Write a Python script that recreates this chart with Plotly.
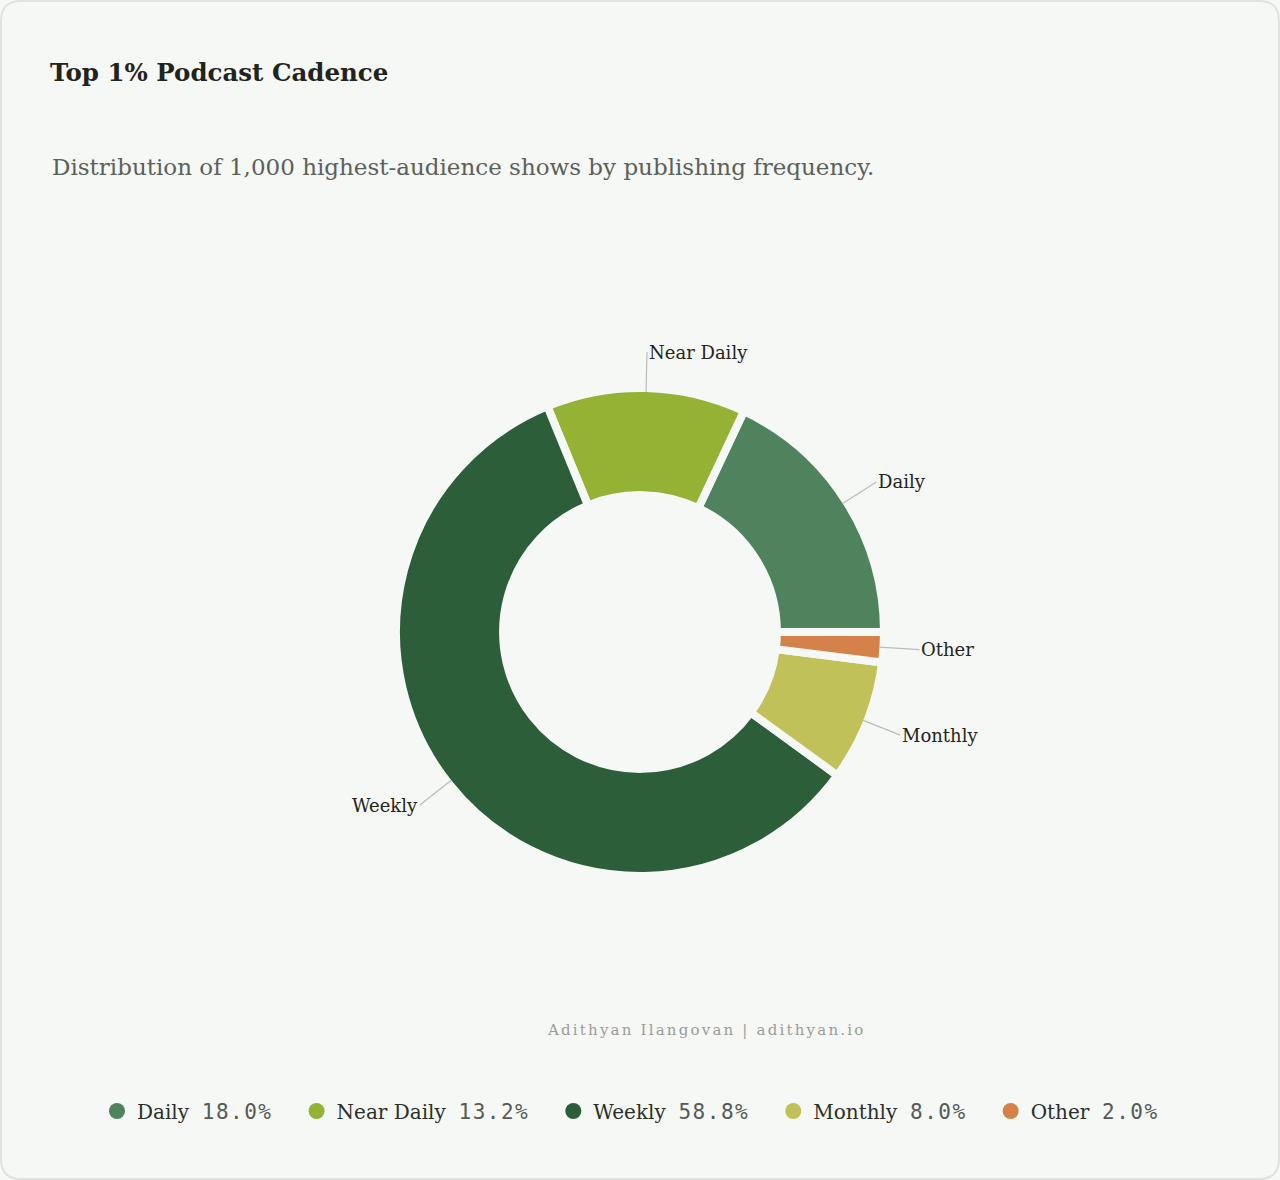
import numpy as np
import plotly.graph_objects as go

# data
labels = ["Daily", "Near Daily", "Weekly", "Monthly", "Other"]
shares = [18.0, 13.2, 58.8, 8.0, 2.0]
colors = ["#4e835e", "#94b335", "#2c5e3a", "#c1c15a", "#d4824a"]

TITLE = "Top 1% Podcast Cadence"
SUBTITLE = "Distribution of 1,000 highest-audience shows by publishing frequency."
CREDIT = "Adithyan Ilangovan | adithyan.io"

W, H = 1280, 1180
BG = "#f6f8f5"
SERIF = "DejaVu Serif, Liberation Serif, serif"
MONO = "DejaVu Sans Mono, monospace"

# donut geometry (pixels)
CX, CY, R = 640, 632, 244
HOLE = 0.561
GAP = 8

fig = go.Figure()

# plotly puts the END of the first slice at `rotation` when counterclockwise,
# so shift it back so Daily starts at 3 o'clock
first_deg = 360 * shares[0] / sum(shares)

fig.add_trace(go.Pie(
    labels=labels,
    values=shares,
    sort=False,
    direction="counterclockwise",
    rotation=90 - first_deg,
    hole=HOLE,
    marker=dict(colors=colors, line=dict(color=BG, width=GAP)),
    textinfo="none",
    hoverinfo="label+percent",
    showlegend=False,
    domain=dict(x=[0, 1], y=[(H - CY - R) / H, (H - CY + R) / H]),
))

# legend via dummy circle markers
pad = "\u00a0" * 3
for lab, val, col in zip(labels, shares, colors):
    fig.add_trace(go.Scatter(
        x=[None], y=[None], mode="markers",
        marker=dict(symbol="circle", size=19, color=col),
        name=(f'{lab}\u00a0 <span style="font-family:{MONO};font-size:21px;'
              f'letter-spacing:1.5px;color:#555a56">{val:.1f}%</span>{pad}'),
    ))

# outside labels with leader lines, positioned from slice mid-angles
vals = np.array(shares)
mid = 2 * np.pi * (np.cumsum(vals) - vals / 2) / vals.sum()
edge = R - GAP / 2
annotations = []
for lab, a in zip(labels, mid):
    c, s = np.cos(a), np.sin(a)
    annotations.append(dict(
        x=(CX + edge * c) / W, y=(H - CY + edge * s) / H,
        xref="paper", yref="paper",
        ax=40 * c, ay=-40 * s,
        text=lab, showarrow=True, arrowhead=0, arrowwidth=1.2,
        arrowcolor="#b9bcb8", standoff=0, startstandoff=0,
        xanchor="left" if c >= 0 else "right", yanchor="middle",
        font=dict(family=SERIF, size=18, color="#1f2420"),
    ))

annotations.append(dict(
    x=50 / W, y=1 - 167 / H, xref="paper", yref="paper",
    xanchor="left", yanchor="middle", showarrow=False,
    text=SUBTITLE, font=dict(family=SERIF, size=23, color="#5b605b"),
))
annotations.append(dict(
    x=706 / W, y=1 - 1030 / H, xref="paper", yref="paper",
    xanchor="center", yanchor="middle", showarrow=False,
    text=f'<span style="letter-spacing:2.2px">{CREDIT}</span>',
    font=dict(family=SERIF, size=15, color="#9a9c98"),
))

# rounded card border
rx, ry = 20 / W, 20 / H
x0, x1, y0, y1 = 1 / W, 1 - 1 / W, 1 / H, 1 - 1 / H
card = (f"M {x0 + rx},{y0} L {x1 - rx},{y0} Q {x1},{y0} {x1},{y0 + ry} "
        f"L {x1},{y1 - ry} Q {x1},{y1} {x1 - rx},{y1} L {x0 + rx},{y1} "
        f"Q {x0},{y1} {x0},{y1 - ry} L {x0},{y0 + ry} Q {x0},{y0} {x0 + rx},{y0} Z")

fig.update_layout(
    width=W, height=H,
    paper_bgcolor=BG, plot_bgcolor=BG,
    margin=dict(l=0, r=0, t=0, b=0),
    title=dict(
        text=f"<b>{TITLE}</b>", x=50 / W, xanchor="left",
        y=1 - 72 / H, yanchor="middle", xref="paper", yref="paper",
        font=dict(family=SERIF, size=24.5, color="#1f2420"),
    ),
    xaxis=dict(visible=False, range=[0, 1]),
    yaxis=dict(visible=False, range=[0, 1]),
    legend=dict(
        orientation="h", x=0.5, xanchor="center", y=1 - 1111 / H, yanchor="middle",
        font=dict(family=SERIF, size=20, color="#2a2f2b"),
        bgcolor="rgba(0,0,0,0)", itemsizing="trace",
    ),
    annotations=annotations,
    shapes=[dict(type="path", path=card, xref="paper", yref="paper",
                 line=dict(color="#e1e3df", width=2), layer="below")],
)

fig.write_html("out.html", config={"displayModeBar": False},
               post_script="document.body.style.margin='0';")
